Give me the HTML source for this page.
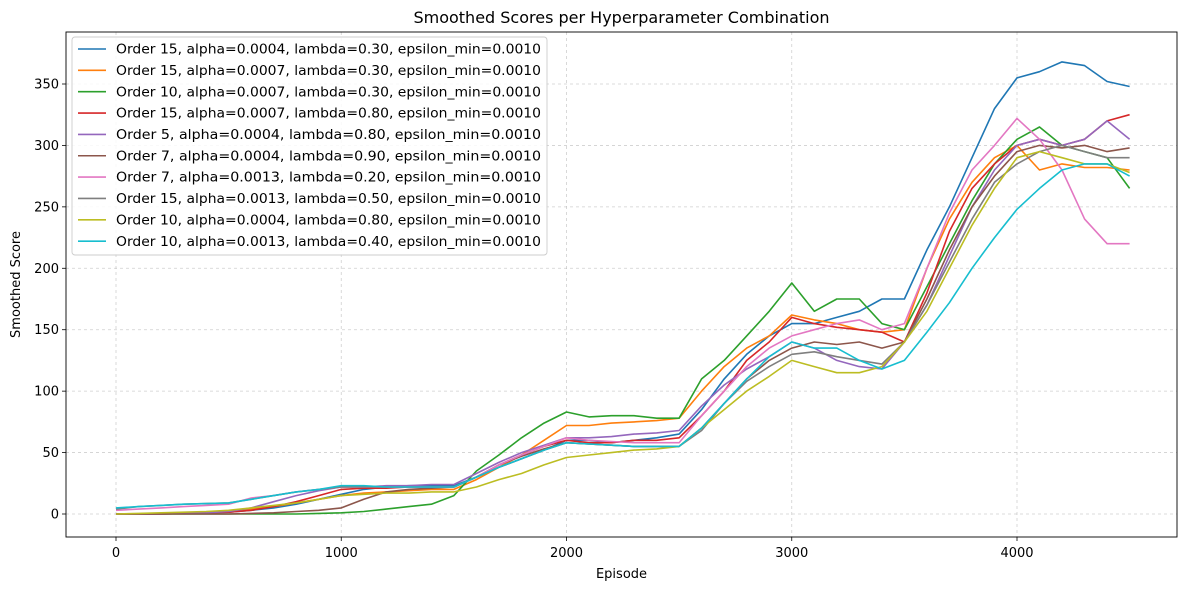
<!DOCTYPE html>
<html><head><meta charset="utf-8">
<style>
body{margin:0;background:#fff;font-family:"Liberation Sans","DejaVu Sans",sans-serif;}
svg text{font-family:"DejaVu Sans","Liberation Sans",sans-serif;}
</style></head>
<body>
<svg id="chart" width="1189" height="590" xmlns="http://www.w3.org/2000/svg"></svg>
<script>
const episodes = [];
for (let i = 0; i <= 45; i++) episodes.push(i * 100);
const xTicks = [0, 1000, 2000, 3000, 4000];
const yTicks = [0, 50, 100, 150, 200, 250, 300, 350];
const seriesLabels = [
 "Order 15, alpha=0.0004, lambda=0.30, epsilon_min=0.0010",
 "Order 15, alpha=0.0007, lambda=0.30, epsilon_min=0.0010",
 "Order 10, alpha=0.0007, lambda=0.30, epsilon_min=0.0010",
 "Order 15, alpha=0.0007, lambda=0.80, epsilon_min=0.0010",
 "Order 5, alpha=0.0004, lambda=0.80, epsilon_min=0.0010",
 "Order 7, alpha=0.0004, lambda=0.90, epsilon_min=0.0010",
 "Order 7, alpha=0.0013, lambda=0.20, epsilon_min=0.0010",
 "Order 15, alpha=0.0013, lambda=0.50, epsilon_min=0.0010",
 "Order 10, alpha=0.0004, lambda=0.80, epsilon_min=0.0010",
 "Order 10, alpha=0.0013, lambda=0.40, epsilon_min=0.0010"];
const seriesColors = ["#1f77b4","#ff7f0e","#2ca02c","#d62728","#9467bd","#8c564b","#e377c2","#7f7f7f","#bcbd22","#17becf"];
const s0 = [0,0,0,0.5,1,1.5, 3,5,8,12,16, 20,22,23,23,23, 30,38,45,52,60, 60,58,60,62,65, 85,110,130,145,155, 155,160,165,175,175, 215,250,290,330,355, 360,368,365,352,348];
const s1 = [0,0,0.5,1,1.5,2, 4,6,9,12,15, 17,18,19,20,20, 28,38,48,60,72, 72,74,75,76,78, 100,120,135,145,162, 158,155,150,148,150, 200,240,270,290,300, 280,285,282,282,280];
const s2 = [0,0,0,0,0,0, 0,0,0,0.5,1, 2,4,6,8,15, 35,48,62,74,83, 79,80,80,78,78, 110,125,145,165,188, 165,175,175,155,150, 185,220,255,285,305, 315,300,295,290,265];
const s3 = [0,0,0,0.5,1,1.5, 3,6,10,15,20, 21,21,22,22,22, 30,40,48,55,60, 58,58,60,60,62, 80,100,125,140,160, 155,152,150,148,140, 180,230,265,285,300, 305,300,305,320,325];
const s4 = [0,0,0,0.5,1,2, 5,10,15,19,22, 22,23,23,24,24, 33,42,50,56,62, 62,63,65,66,68, 88,105,118,128,140, 135,125,120,118,140, 170,210,250,280,300, 305,300,305,320,305];
const s5 = [0,0,0,0,0,0, 0.5,1,2,3,5, 12,18,20,21,22, 30,40,47,53,58, 57,56,55,55,55, 70,90,110,125,135, 140,138,140,135,140, 175,215,250,275,295, 300,298,300,295,298];
const s6 = [3,4,5,6,7,8, 13,15,18,20,22, 22,22,22,22,22, 30,40,48,55,62, 60,59,58,58,58, 80,100,120,135,145, 150,155,158,150,155, 200,245,280,300,322, 305,280,240,220,220];
const s7 = [4,6,7,8,8.5,9, 12,15,18,20,22, 22,22,22,22,22, 30,38,45,52,58, 57,56,55,55,55, 68,90,108,120,130, 132,128,125,122,140, 170,205,240,270,285, 295,300,295,290,290];
const s8 = [0,0.5,1,1.5,2,3, 5,7,9,12,15, 16,17,17,18,18, 22,28,33,40,46, 48,50,52,53,55, 70,85,100,112,125, 120,115,115,120,140, 165,200,235,265,290, 295,290,285,285,278];
const s9 = [5,6,7,8,8.5,9, 12,15,18,20,23, 23,22,22,22,22, 30,38,45,52,58, 57,56,55,55,55, 70,90,110,128,140, 135,135,125,118,125, 148,172,200,225,248, 265,280,285,285,275];
const allSeries = [s0,s1,s2,s3,s4,s5,s6,s7,s8,s9];

const L=66,R=1177,T=32,B=537;
const FS=13;
const xs = v => 116 + v*(1017-116)/4000;
const ys = v => 514 - v*(514-84)/350;
const svg = document.getElementById('chart');
const NS="http://www.w3.org/2000/svg";
function mk(tag, attrs, parent){const e=document.createElementNS(NS,tag);for(const k in attrs)e.setAttribute(k,attrs[k]);(parent||svg).appendChild(e);return e;}

xTicks.forEach(t=>{
  const g=mk('line',{x1:xs(t),x2:xs(t),y1:T,y2:B,stroke:'#b0b0b0','stroke-width':0.8,'stroke-dasharray':'3,3',opacity:0.6});
  
  
  mk('line',{x1:xs(t),x2:xs(t),y1:B,y2:B+4,stroke:'#000','stroke-width':0.8});
  const tx=mk('text',{x:xs(t),y:B+20,'text-anchor':'middle','font-size':FS});
  tx.textContent=t;
  
  
});
yTicks.forEach(t=>{
  const g=mk('line',{x1:L,x2:R,y1:ys(t),y2:ys(t),stroke:'#b0b0b0','stroke-width':0.8,'stroke-dasharray':'3,3',opacity:0.6});
  
  
  mk('line',{x1:L-4,x2:L,y1:ys(t),y2:ys(t),stroke:'#000','stroke-width':0.8});
  const tx=mk('text',{x:L-7,y:ys(t)+4.5,'text-anchor':'end','font-size':FS});
  tx.textContent=t;
  
  
});

allSeries.forEach((s,i)=>{
  const d=s.map((v,j)=>(j?'L':'M')+xs(episodes[j]).toFixed(1)+','+ys(v).toFixed(1)).join('');
  const p=mk('path',{d:d,fill:'none',stroke:seriesColors[i],'stroke-width':1.6,'stroke-linejoin':'round'});
  
  
});

const fr=mk('rect',{x:L,y:T,width:R-L,height:B-T,fill:'none',stroke:'#000','stroke-width':0.9});



const lg=mk('g',{});


mk('rect',{x:72,y:37,width:475,height:218,rx:3,fill:'#fff','fill-opacity':0.85,stroke:'#ccc','stroke-width':0.9},lg);
seriesLabels.forEach((lab,i)=>{
  const y=49+i*21.35;
  const ln=mk('line',{x1:78,x2:106,y1:y,y2:y,stroke:seriesColors[i],'stroke-width':1.6},lg);
  
  
  const tx=mk('text',{x:116,y:y+4.6,'font-size':FS,textLength:425,lengthAdjust:'spacingAndGlyphs'},lg);
  tx.textContent=lab;
  
  
});

const ti=mk('text',{x:(L+R)/2,y:23,'text-anchor':'middle','font-size':16});
ti.textContent='Smoothed Scores per Hyperparameter Combination';


const xl=mk('text',{x:(L+R)/2,y:578,'text-anchor':'middle','font-size':FS});
xl.textContent='Episode';


const yl=mk('text',{x:20,y:(T+B)/2,'text-anchor':'middle','font-size':FS,transform:'rotate(-90 20 '+((T+B)/2)+')'});
yl.textContent='Smoothed Score';


</script>
</body></html>
